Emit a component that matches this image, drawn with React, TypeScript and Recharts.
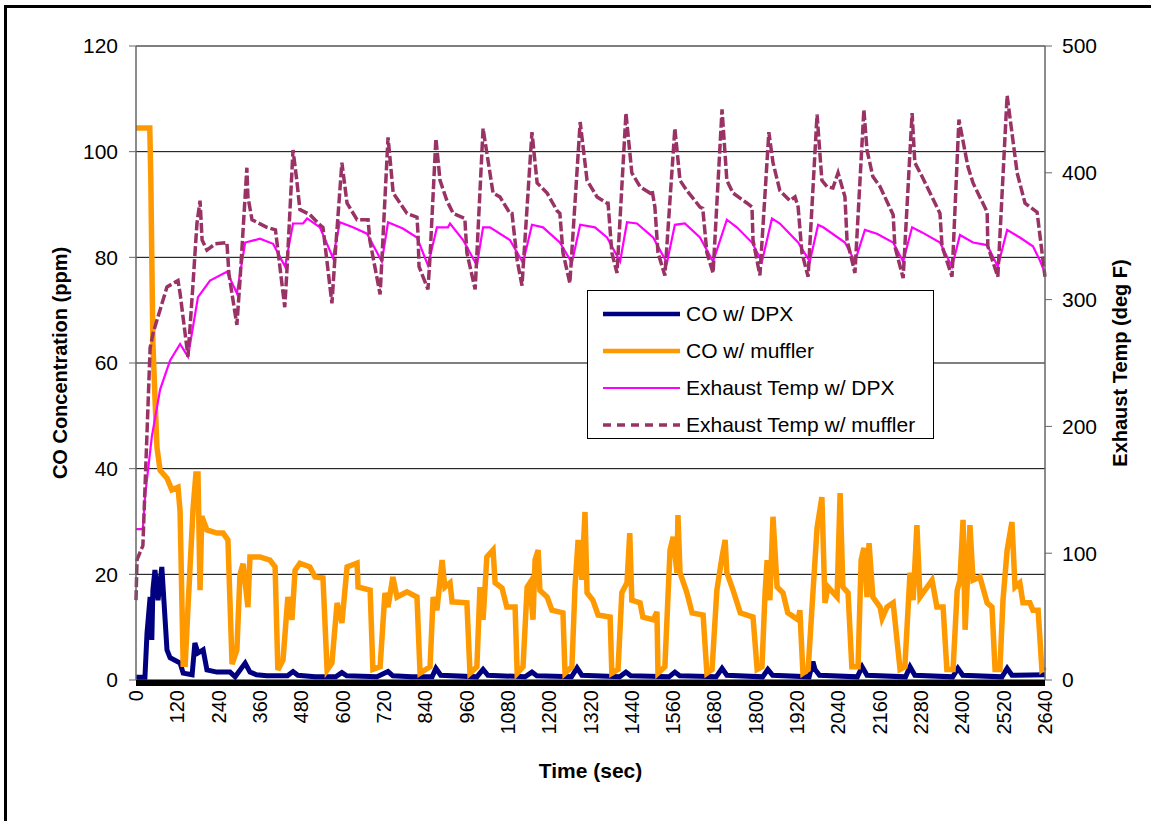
import { LineChart, Line, XAxis, YAxis, CartesianGrid } from 'recharts';

// time (sec) / value pairs
const xTicks = [0, 120, 240, 360, 480, 600, 720, 840, 960, 1080, 1200, 1320, 1440, 1560, 1680, 1800, 1920, 2040, 2160, 2280, 2400, 2520, 2640];
const leftTicks = [0, 20, 40, 60, 80, 100, 120];
const rightTicks = [0, 100, 200, 300, 400, 500];

const coDpx: [number, number][] = [
  [0, 0.5], [26, 0.5], [32, 8.9], [41, 15.7], [46, 7.6], [49, 17], [55, 20.8], [64, 15.1], [75, 21.4], [90, 5.7],
  [99, 4.2], [128, 3.2], [137, 1.3], [163, 1.0], [171, 7.0], [180, 5.1], [195, 5.7], [206, 1.9], [235, 1.5], [273, 1.5],
  [288, 0.6], [317, 3.2], [331, 1.5], [350, 1.0], [380, 0.8], [440, 0.8], [456, 1.6], [470, 0.9], [520, 0.6], [580, 0.6],
  [598, 1.4], [612, 0.8], [700, 0.6], [732, 1.6], [746, 0.8], [800, 0.6], [860, 0.6], [871, 2.2], [885, 0.9], [990, 0.6],
  [1008, 2.0], [1022, 0.9], [1130, 0.6], [1150, 1.5], [1164, 0.8], [1265, 0.6], [1281, 2.3], [1295, 0.9], [1405, 0.6],
  [1423, 1.5], [1437, 0.8], [1548, 0.6], [1565, 1.5], [1579, 0.8], [1685, 0.6], [1702, 2.2], [1716, 0.9], [1820, 0.6],
  [1835, 2.0], [1849, 0.9], [1955, 0.6], [1966, 3.5], [1972, 2.0], [1985, 0.9], [2095, 0.6], [2109, 2.5], [2123, 0.9],
  [2235, 0.6], [2248, 2.5], [2262, 0.9], [2372, 0.6], [2387, 2.2], [2401, 0.9], [2515, 0.6], [2530, 2.2], [2544, 0.9], [2640, 1.0],
];

const coMuffler: [number, number][] = [
  [0, 104.5], [40, 104.5], [43, 95], [49, 64], [55, 53.6], [61, 44], [70, 39.7], [90, 38.2], [104, 36], [122, 36.5],
  [128, 32], [137, 3], [143, 3], [151, 13.8], [166, 32.7], [174, 39], [180, 39], [186, 17], [191, 31], [206, 28.4],
  [235, 27.8], [253, 27.8], [267, 26.5], [279, 3], [293, 5.7], [302, 20], [311, 22], [325, 13.8], [331, 23.3], [360, 23.3],
  [389, 22.7], [404, 21.4], [412, 1.9], [427, 3.8], [441, 15.7], [453, 11.4], [462, 20.8], [476, 22.1], [505, 21.4],
  [520, 19.5], [543, 19.3], [555, 1.9], [569, 3.2], [584, 14.6], [598, 10.8], [613, 21.4], [642, 22.1], [645, 17.6],
  [680, 17], [688, 2], [709, 2.5], [723, 16.5], [732, 13.8], [746, 19.5], [758, 15.7], [787, 16.7], [816, 15.7], [825, 1.3],
  [854, 2.5], [863, 15.7], [874, 13.2], [889, 22.7], [897, 17.6], [912, 18.4], [918, 14.8], [961, 14.6], [970, 1.3],
  [990, 2.5], [999, 17.6], [1008, 11.4], [1019, 23.3], [1037, 24.6], [1043, 18.4], [1063, 17.4], [1077, 13.8], [1101, 13.8],
  [1107, 1.3], [1124, 2.5], [1136, 17.6], [1144, 18.4], [1153, 11.4], [1159, 22.7], [1168, 24.6], [1173, 17], [1194, 15.7],
  [1208, 13.2], [1240, 12.7], [1246, 1.3], [1266, 2.5], [1275, 17.6], [1284, 26.5], [1295, 19], [1304, 31.8], [1310, 16.5],
  [1327, 15.1], [1342, 12.3], [1377, 11.9], [1382, 1.3], [1400, 2], [1411, 16.5], [1426, 18.4], [1434, 27.8], [1440, 15.1],
  [1464, 14.6], [1472, 11.9], [1502, 11.4], [1513, 12.9], [1516, 1.3], [1536, 2.5], [1551, 24.6], [1560, 27.1], [1571, 20.3],
  [1574, 31.2], [1580, 20.3], [1600, 16.5], [1615, 12.7], [1647, 12.3], [1658, 1.3], [1673, 2], [1687, 17], [1702, 23.3],
  [1711, 26.5], [1716, 20.3], [1734, 17], [1755, 12.7], [1792, 11.9], [1804, 2], [1818, 2.5], [1827, 16.5], [1833, 22.7],
  [1841, 15.1], [1850, 30.9], [1862, 17.6], [1879, 16.5], [1893, 12.7], [1923, 11.4], [1928, 13.2], [1937, 1.3], [1952, 2],
  [1966, 16.5], [1978, 28.8], [1992, 34.6], [2001, 14.6], [2010, 17.6], [2036, 15.7], [2045, 35.4], [2053, 17.6], [2068, 16.5],
  [2079, 2.5], [2097, 2.5], [2106, 22.7], [2114, 25], [2123, 15.7], [2129, 25.9], [2140, 15.7], [2161, 13.8], [2167, 11.7],
  [2181, 13.8], [2199, 14.6], [2219, 2], [2233, 2.5], [2248, 20.3], [2257, 15.1], [2268, 29.3], [2277, 15.7], [2312, 18.9],
  [2326, 13.8], [2344, 13.8], [2355, 2], [2373, 2], [2385, 17], [2393, 18.9], [2402, 30.3], [2408, 9.5], [2422, 29.3],
  [2431, 18.9], [2451, 19.5], [2472, 14.6], [2486, 13.8], [2495, 2], [2509, 2], [2518, 15.1], [2530, 24.6], [2544, 29.9],
  [2553, 17.6], [2567, 18.4], [2576, 14.6], [2596, 14.6], [2605, 13.2], [2620, 13.2], [2631, 2], [2640, 2.5],
];

const tempDpx: [number, number][] = [
  [0, 119], [20, 119], [26, 144], [46, 192], [70, 229], [99, 252], [128, 265], [151, 255], [180, 302], [215, 315],
  [264, 322], [293, 305], [317, 345], [360, 348], [398, 344], [433, 326], [456, 360], [485, 360], [497, 364], [534, 357],
  [572, 333], [592, 361], [630, 357], [671, 352], [714, 330], [732, 361], [775, 356], [816, 349], [848, 327], [874, 357],
  [906, 357], [912, 360], [950, 347], [990, 327], [1008, 357], [1028, 357], [1086, 347], [1124, 329], [1150, 359],
  [1182, 357], [1231, 345], [1266, 329], [1290, 359], [1333, 357], [1368, 349], [1406, 330], [1426, 361], [1455, 360],
  [1502, 349], [1542, 329], [1565, 359], [1594, 360], [1638, 349], [1676, 330], [1716, 363], [1745, 357], [1789, 345],
  [1818, 330], [1847, 364], [1870, 360], [1923, 345], [1957, 330], [1981, 359], [1996, 357], [2059, 345], [2088, 330],
  [2117, 355], [2152, 352], [2199, 345], [2228, 330], [2254, 357], [2283, 353], [2335, 345], [2370, 326], [2393, 351],
  [2431, 345], [2472, 343], [2503, 326], [2530, 355], [2567, 349], [2605, 342], [2625, 331], [2640, 321],
];

const tempMuffler: [number, number][] = [
  [0, 63], [3, 95], [20, 106], [30, 180], [41, 262], [50, 274], [90, 310], [122, 315], [128, 305], [151, 255],
  [165, 310], [177, 360], [186, 378], [192, 347], [206, 339], [230, 344], [264, 345], [270, 320], [293, 280], [302, 315],
  [322, 404], [325, 381], [337, 363], [380, 357], [405, 355], [432, 294], [438, 321], [456, 418], [467, 394], [476, 371],
  [505, 367], [534, 359], [543, 357], [569, 297], [578, 334], [598, 408], [613, 376], [642, 363], [674, 363], [679, 347],
  [709, 304], [717, 347], [732, 428], [747, 384], [787, 368], [816, 365], [819, 352], [822, 326], [848, 308], [854, 334],
  [871, 427], [883, 394], [903, 378], [921, 368], [955, 364], [961, 337], [985, 308], [1008, 435], [1037, 384], [1057, 381],
  [1086, 368], [1092, 368], [1107, 331], [1121, 311], [1150, 432], [1165, 392], [1194, 384], [1223, 370], [1231, 368],
  [1240, 337], [1260, 313], [1290, 440], [1310, 394], [1339, 381], [1368, 376], [1371, 376], [1382, 337], [1397, 321],
  [1423, 447], [1440, 400], [1464, 389], [1493, 384], [1499, 386], [1507, 373], [1516, 337], [1536, 319], [1565, 435],
  [1580, 394], [1600, 386], [1638, 373], [1646, 372], [1658, 337], [1676, 321], [1702, 450], [1716, 394], [1734, 384],
  [1775, 376], [1789, 373], [1792, 347], [1812, 319], [1838, 432], [1850, 408], [1870, 386], [1899, 378], [1914, 381],
  [1923, 373], [1934, 337], [1952, 318], [1978, 446], [1992, 394], [2007, 389], [2024, 388], [2039, 400], [2059, 381],
  [2065, 347], [2088, 321], [2114, 450], [2123, 418], [2140, 397], [2161, 389], [2199, 367], [2204, 342], [2228, 317],
  [2254, 447], [2262, 408], [2283, 397], [2335, 368], [2341, 342], [2370, 318], [2390, 442], [2416, 405], [2431, 392],
  [2472, 369], [2474, 342], [2503, 318], [2530, 461], [2559, 400], [2582, 376], [2617, 369], [2640, 318],
];

const FONT = "'Liberation Sans', Arial, sans-serif";

const toPoints = (pairs: [number, number][]) => pairs.map(([t, v]) => ({ t, v }));

const series = [
  { name: 'CO w/ DPX', data: coDpx, axis: 'left', color: '#000080', width: 5, dash: undefined },
  { name: 'CO w/ muffler', data: coMuffler, axis: 'left', color: '#FF9900', width: 5.5, dash: undefined },
  { name: 'Exhaust Temp w/ DPX', data: tempDpx, axis: 'right', color: '#FF00FF', width: 2.2, dash: undefined },
  { name: 'Exhaust Temp w/ muffler', data: tempMuffler, axis: 'right', color: '#993366', width: 3.5, dash: '10 3' },
];

const XTick = ({ x, y, payload }: any) => (
  <text
    transform={`translate(${x},${y + 10}) rotate(-90)`}
    textAnchor="end"
    dominantBaseline="central"
    fontSize={20}
    fontFamily={FONT}
    fill="#000"
  >
    {payload.value}
  </text>
);

const titleStyle = { fontFamily: FONT, fontSize: 20, fontWeight: 700, fill: '#000' };

const LeftTitle = ({ viewBox }: any) => (
  <text transform={`translate(${viewBox.x + 60},${viewBox.y + viewBox.height / 2}) rotate(-90)`} textAnchor="middle" dominantBaseline="central" style={titleStyle}>
    CO Concentration (ppm)
  </text>
);

const RightTitle = ({ viewBox }: any) => (
  <text transform={`translate(${viewBox.x + 75},${viewBox.y + viewBox.height / 2}) rotate(-90)`} textAnchor="middle" dominantBaseline="central" style={titleStyle}>
    Exhaust Temp (deg F)
  </text>
);

const BottomTitle = ({ viewBox }: any) => (
  <text x={viewBox.x + viewBox.width / 2} y={viewBox.y + 90} textAnchor="middle" dominantBaseline="central" style={{ ...titleStyle, fontSize: 21 }}>
    Time (sec)
  </text>
);

const LegendBox = () => (
  <div
    style={{
      position: 'absolute',
      left: 587,
      top: 290,
      width: 347,
      height: 149,
      boxSizing: 'border-box',
      border: '1px solid #000',
      background: '#fff',
      fontFamily: FONT,
      fontSize: 21,
    }}
  >
    {series.map((s, i) => (
      <div key={s.name} style={{ position: 'absolute', left: 14, top: 10 + i * 37, height: 26, display: 'flex', alignItems: 'center' }}>
        <svg width={80} height={10}>
          <line x1={1} y1={5} x2={78} y2={5} stroke={s.color} strokeWidth={Math.min(s.width, 4.5)} strokeDasharray={s.dash ? '8 6' : undefined} />
        </svg>
        <span style={{ marginLeft: 4, whiteSpace: 'nowrap' }}>{s.name}</span>
      </div>
    ))}
  </div>
);

export default function App() {
  return (
    <div style={{ position: 'absolute', left: 0, top: 0, width: 1151, height: 821, overflow: 'hidden', background: '#fff' }}>
      <div style={{ position: 'absolute', left: 4, top: 5, width: 1200, height: 900, border: '3px solid #000' }} />
      <div style={{ position: 'absolute', left: 0, top: 0 }}>
        <LineChart width={1151} height={821} margin={{ top: 46, right: 0, bottom: 0, left: 0 }}>
          <CartesianGrid yAxisId="left" vertical={false} stroke="#000" strokeWidth={1} />
          <XAxis
            dataKey="t"
            type="number"
            domain={[0, 2640]}
            ticks={xTicks}
            interval={0}
            height={141}
            tickSize={0}
            tickMargin={0}
            tickLine={false}
            axisLine={{ stroke: '#000', strokeWidth: 6, transform: 'translate(0,3)' }}
            tick={<XTick />}
            label={<BottomTitle />}
          />
          <YAxis
            yAxisId="left"
            domain={[0, 120]}
            ticks={leftTicks}
            interval={0}
            width={136}
            tickSize={7}
            tickMargin={11}
            axisLine={{ stroke: '#666', strokeWidth: 1.5 }}
            tickLine={{ stroke: '#666' }}
            tick={{ fontSize: 21, fontFamily: FONT, fill: '#000' }}
            label={<LeftTitle />}
          />
          <YAxis
            yAxisId="right"
            orientation="right"
            domain={[0, 500]}
            ticks={rightTicks}
            interval={0}
            width={106}
            tickSize={7}
            tickMargin={10}
            axisLine={{ stroke: '#666', strokeWidth: 1.5 }}
            tickLine={{ stroke: '#666' }}
            tick={{ fontSize: 21, fontFamily: FONT, fill: '#000' }}
            label={<RightTitle />}
          />
          {series.map((s) => (
            <Line
              key={s.name}
              data={toPoints(s.data)}
              dataKey="v"
              yAxisId={s.axis}
              name={s.name}
              type="linear"
              stroke={s.color}
              strokeWidth={s.width}
              strokeDasharray={s.dash}
              dot={false}
              activeDot={false}
              isAnimationActive={false}
            />
          ))}
        </LineChart>
      </div>
      <LegendBox />
    </div>
  );
}
